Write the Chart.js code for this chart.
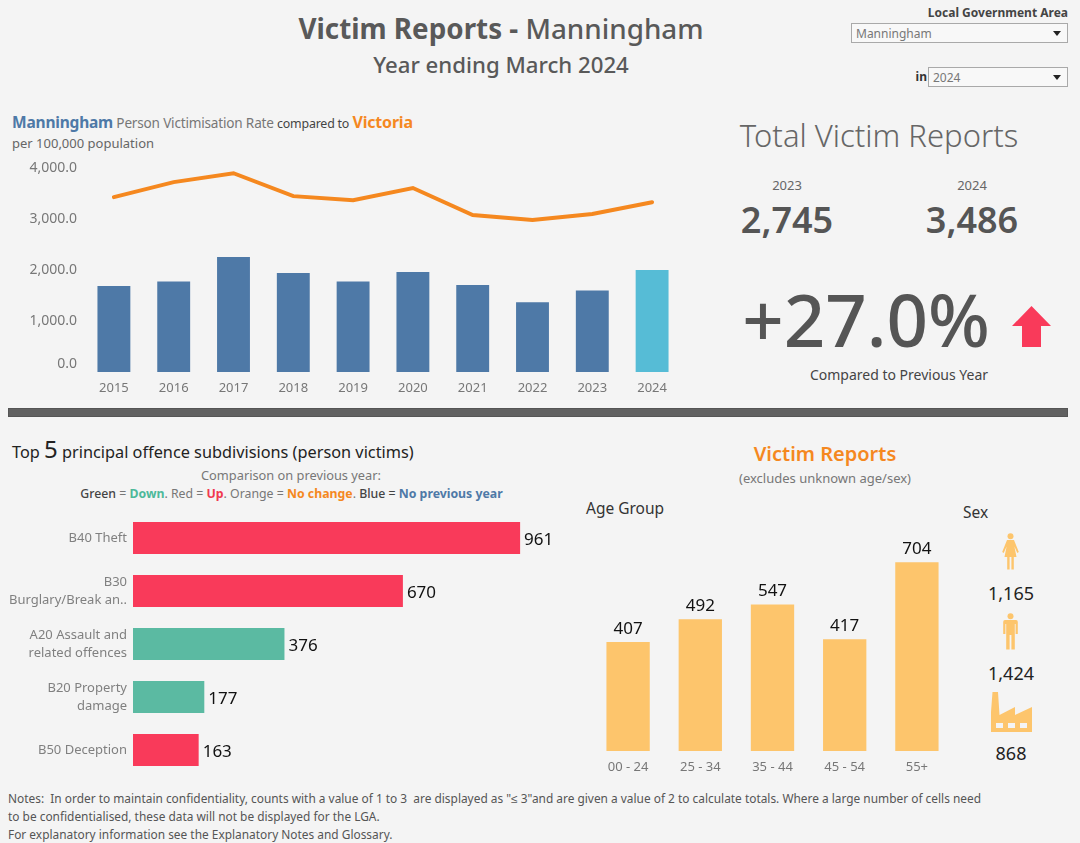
<!DOCTYPE html>
<html>
<head>
<meta charset="utf-8">
<title>Victim Reports - Manningham</title>
<script src="https://cdn.jsdelivr.net/npm/chart.js@4"></script>
<style>
  html, body { margin: 0; padding: 0; background: #f4f4f4; }
  body { width: 1080px; height: 843px; position: relative; overflow: hidden; font-family: "Noto Sans", sans-serif; color: #555; }
  .t { position: absolute; white-space: nowrap; line-height: 1; transform: translateY(-50%); }
  .c { transform: translate(-50%, -50%); }
  .r { transform: translate(-100%, -50%); }
  canvas { position: absolute; }
  .box { position: absolute; box-sizing: border-box; background: #f8f8f8; border: 1px solid #a9a9a9; font-size: 12px; color: #777; line-height: 19px; padding-left: 4px; }
  .box::after { content: ""; position: absolute; right: 6px; top: 7px; border: 4px solid transparent; border-top: 5px solid #222; border-bottom: 0; }
  .bar { position: absolute; left: 8px; top: 408px; width: 1060px; height: 9px; background: #616161; border: 1px solid #555; box-sizing: border-box; }
  svg { position: absolute; }
  b { font-weight: 700; }
</style>
</head>
<body>

<div class="t c" style="left:501px;top:29px;font-size:27.8px;color:#595959"><b>Victim Reports - </b><span style="font-weight:500">Manningham</span></div>
<div class="t c" style="left:501px;top:65px;font-size:22.2px;font-weight:500;color:#595959">Year ending March 2024</div>

<div class="t r" style="left:1068px;top:13px;font-size:12px;font-weight:700;color:#444">Local Government Area</div>
<div class="box" style="left:851px;top:23px;width:217px;height:20px">Manningham</div>
<div class="t r" style="left:927px;top:77px;font-size:12px;font-weight:700;color:#333">in</div>
<div class="box" style="left:928px;top:67px;width:140px;height:20px">2024</div>

<div class="t" style="left:12px;top:122px;font-size:13.6px;color:#777;letter-spacing:-0.2px"><b style="font-size:15.5px;color:#4e79a7">Manningham</b> Person Victimisation Rate <span style="font-size:12.4px;color:#444">compared to</span> <b style="font-size:16px;color:#f5881f">Victoria</b></div>
<div class="t" style="left:12px;top:143px;font-size:13px;color:#666">per 100,000 population</div>
<canvas id="rateChart" style="left:0;top:155px;width:690px;height:245px"></canvas>

<div class="t c" style="left:879px;top:135px;font-size:31px;font-weight:300;color:#666">Total Victim Reports</div>
<div class="t c" id="kpiYearA" style="left:787px;top:185px;font-size:13px;color:#666"></div>
<div class="t c" id="kpiYearB" style="left:972px;top:185px;font-size:13px;color:#666"></div>
<div class="t c" id="kpiValA" style="left:787px;top:219.5px;font-size:36px;font-weight:600"></div>
<div class="t c" id="kpiValB" style="left:972px;top:219.5px;font-size:36px;font-weight:600"></div>
<div class="t c" id="kpiChange" style="left:866px;top:319px;font-size:72.6px;font-weight:500"></div>
<svg style="left:1012px;top:306px" width="39" height="41" viewBox="0 0 39 41"><path d="M19.5 0 L39 20 H29 V41 H10 V20 H0 Z" fill="#f93a5a"/></svg>
<div class="t c" style="left:899px;top:375px;font-size:14px;color:#444">Compared to Previous Year</div>

<div class="bar"></div>

<div class="t" style="left:12px;top:449px;font-size:16.3px;color:#222">Top <span style="font-size:24px">5</span> principal offence subdivisions (person victims)</div>
<div class="t c" style="left:291px;top:475px;font-size:12.8px;color:#777">Comparison on previous year:</div>
<div class="t c" style="left:291.5px;top:494px;font-size:12.3px;color:#777"><span style="font-weight:500;color:#444">Green</span> = <b style="color:#4db99a">Down</b>. Red = <b style="color:#f0394f">Up</b>. Orange = <b style="color:#f5881f">No change</b>. <span style="font-weight:500;color:#444">Blue =</span> <b style="color:#4e79a7">No previous year</b></div>
<canvas id="offenceChart" style="left:0;top:505px;width:570px;height:280px"></canvas>

<div class="t c" style="left:825px;top:454px;font-size:20px;font-weight:600;color:#f5881f">Victim Reports</div>
<div class="t c" style="left:825px;top:478px;font-size:13px;color:#777">(excludes unknown age/sex)</div>
<div class="t" style="left:586px;top:509px;font-size:15.5px;color:#333">Age Group</div>
<div class="t" style="left:963px;top:513px;font-size:15.5px;color:#333">Sex</div>
<canvas id="ageChart" style="left:580px;top:530px;width:380px;height:250px"></canvas>

<svg style="left:1002px;top:533px" width="17" height="37" viewBox="0 0 17 37"><g fill="#fdc56c"><circle cx="8.5" cy="3.2" r="3"/><path d="M5 7 H12 L16.8 19 L15.3 20 L12.4 13.5 L14.5 24 H11.8 V36.5 H9.4 V24 H7.6 V36.5 H5.2 V24 H2.5 L4.6 13.5 L1.7 20 L0.2 19 Z"/></g></svg>
<svg style="left:1002px;top:613px" width="17" height="37" viewBox="0 0 17 37"><g fill="#fdc56c"><circle cx="8.5" cy="3.2" r="3"/><path d="M3 7 H14 Q15.8 7 15.8 9 V21 H13.6 V11 H12.8 V36.5 H9.4 V22 H7.6 V36.5 H4.2 V11 H3.4 V21 H1.2 V9 Q1.2 7 3 7 Z"/></g></svg>
<svg style="left:991px;top:692px" width="41" height="40" viewBox="0 0 41 40"><path fill="#fdc56c" fill-rule="evenodd" d="M0 40 V20 L1.5 0 H7 L8.5 23 L24 15 V23 L41 15 V40 Z M5 31 V36 H12 V31 Z M17 31 V36 H24 V31 Z M29 31 V36 H36 V31 Z"/></svg>
<div class="t c sexVal" style="left:1011px;top:592.5px;font-size:18px;color:#222"></div>
<div class="t c sexVal" style="left:1011px;top:672.5px;font-size:18px;color:#222"></div>
<div class="t c sexVal" style="left:1011px;top:752.5px;font-size:18px;color:#222"></div>

<div class="t" style="left:8px;top:799px;font-size:11.9px;color:#555">Notes:&nbsp; In order to maintain confidentiality, counts with a value of 1 to 3&nbsp; are displayed as "≤ 3"and are given a value of 2 to calculate totals. Where a large number of cells need</div>
<div class="t" style="left:8px;top:817px;font-size:11.9px;color:#555">to be confidentialised, these data will not be displayed for the LGA.</div>
<div class="t" style="left:8px;top:835px;font-size:11.9px;color:#555">For explanatory information see the Explanatory Notes and Glossary.</div>

<script>
// data
const years = ["2015", "2016", "2017", "2018", "2019", "2020", "2021", "2022", "2023", "2024"];
const lgaRate = [1686, 1775, 2255, 1940, 1775, 1960, 1705, 1370, 1600, 2000];
const vicRate = [3431, 3725, 3900, 3450, 3370, 3610, 3080, 2980, 3100, 3330];
const rateTicks = [0, 1000, 2000, 3000, 4000];

const offences = ["B40 Theft", ["B30", "Burglary/Break an.."], ["A20 Assault and", "related offences"], ["B20 Property", "damage"], "B50 Deception"];
const offenceValues = [961, 670, 376, 177, 163];
const offenceTrend = ["up", "up", "down", "down", "up"];

const ageGroups = ["00 - 24", "25 - 34", "35 - 44", "45 - 54", "55+"];
const ageValues = [407, 492, 547, 417, 704];
const sexValues = ["1,165", "1,424", "868"];

const kpiYears = ["2023", "2024"];
const kpiValues = ["2,745", "3,486"];
const kpiChange = "+27.0%";

document.getElementById("kpiYearA").textContent = kpiYears[0];
document.getElementById("kpiYearB").textContent = kpiYears[1];
document.getElementById("kpiValA").textContent = kpiValues[0];
document.getElementById("kpiValB").textContent = kpiValues[1];
document.getElementById("kpiChange").textContent = kpiChange;
document.querySelectorAll(".sexVal").forEach((el, i) => { el.textContent = sexValues[i]; });

Chart.defaults.font.family = '"Noto Sans", sans-serif';
Chart.defaults.animation = false;
Chart.defaults.responsive = false;
Chart.defaults.plugins.legend.display = false;
Chart.defaults.plugins.tooltip.enabled = false;

const trendColors = { up: "#f93a5a", down: "#5bbaa2" };
const noGrid = { display: false, drawTicks: false };

// value labels at the end of each bar
const barLabels = {
    id: "barLabels",
    afterDatasetsDraw(chart) {
        const ctx = chart.ctx;
        const meta = chart.getDatasetMeta(0);
        const horizontal = chart.options.indexAxis === "y";
        ctx.save();
        ctx.font = '17px "Noto Sans", sans-serif';
        ctx.fillStyle = "#111";
        ctx.textBaseline = "middle";
        meta.data.forEach((bar, i) => {
            const text = chart.data.datasets[0].data[i];
            if (horizontal) {
                ctx.textAlign = "left";
                ctx.fillText(text, bar.x + 4, bar.y + 2);
            } else {
                ctx.textAlign = "center";
                ctx.fillText(text, bar.x, bar.y - 13);
            }
        });
        ctx.restore();
    }
};

new Chart(document.getElementById("rateChart"), {
    data: {
        labels: years,
        datasets: [
            { type: "line", data: vicRate, borderColor: "#f5881f", borderWidth: 4, pointRadius: 0, tension: 0, borderCapStyle: "round", order: 0 },
            { type: "bar", data: lgaRate, backgroundColor: years.map((y, i) => i === years.length - 1 ? "#56bcd6" : "#4e79a7"), barPercentage: 0.55, categoryPercentage: 1, order: 1 }
        ]
    },
    options: {
        layout: { padding: { top: 8, right: 8 } },
        scales: {
            x: {
                grid: noGrid, border: { display: false },
                ticks: { color: "#777", font: { size: 13 }, padding: 8, maxRotation: 0 },
                afterFit(scale) { scale.height = 28; scale.paddingLeft = 0; scale.paddingRight = 0; }
            },
            y: {
                min: 0, max: 4100,
                grid: noGrid, border: { display: false },
                afterBuildTicks(scale) { scale.ticks = rateTicks.map(v => ({ value: v })); },
                ticks: {
                    color: "#777", font: { size: 14, lineHeight: 16 / 14 }, padding: 7,
                    callback: v => {
                        const s = v.toLocaleString("en-US", { minimumFractionDigits: 1 });
                        // the 0.0 label sits above the baseline in the original
                        return v === 0 ? [s, ""] : s;
                    }
                },
                afterFit(scale) { scale.width = 84; scale.paddingTop = 0; scale.paddingBottom = 0; }
            }
        }
    }
});

new Chart(document.getElementById("offenceChart"), {
    type: "bar",
    data: {
        labels: offences,
        datasets: [{ data: offenceValues, backgroundColor: offenceTrend.map(t => trendColors[t]), barPercentage: 0.6, categoryPercentage: 1 }]
    },
    options: {
        indexAxis: "y",
        layout: { padding: { top: 6.5, bottom: 8.5, right: 10 } },
        scales: {
            x: { display: false, min: 0, max: 1060 },
            y: {
                grid: noGrid, border: { display: false },
                ticks: { color: "#808080", font: { size: 13, lineHeight: 18 / 13 }, padding: 6, autoSkip: false },
                afterFit(scale) { scale.width = 133; scale.paddingTop = 0; scale.paddingBottom = 0; }
            }
        }
    },
    plugins: [barLabels]
});

new Chart(document.getElementById("ageChart"), {
    type: "bar",
    data: {
        labels: ageGroups,
        datasets: [{ data: ageValues, backgroundColor: "#fdc56c", barPercentage: 0.6, categoryPercentage: 1 }]
    },
    options: {
        layout: { padding: { top: 20, left: 12, right: 7 } },
        scales: {
            x: {
                grid: noGrid, border: { display: false },
                ticks: { color: "#777", font: { size: 13 }, padding: 8, maxRotation: 0 },
                afterFit(scale) { scale.height = 29; scale.paddingLeft = 0; scale.paddingRight = 0; }
            },
            y: { display: false, min: 0, max: 750 }
        }
    },
    plugins: [barLabels]
});
</script>
</body>
</html>
